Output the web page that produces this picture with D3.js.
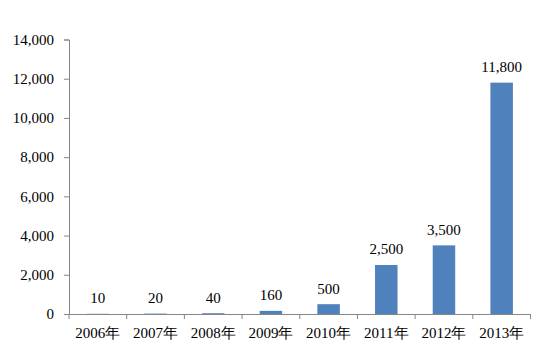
<!DOCTYPE html>
<html><head><meta charset="utf-8">
<script src="https://cdn.jsdelivr.net/npm/d3@7"></script>
<style>
body{margin:0;background:#fff;} svg{display:block;}
svg text{font-family:"Liberation Serif","Times New Roman",Times,"DejaVu Serif",serif;}
</style>
</head><body>
<script>
const categories = ["2006年","2007年","2008年","2009年","2010年","2011年","2012年","2013年"];
const values = [10,20,40,160,500,2500,3500,11800];
const yTicks = [0,2000,4000,6000,8000,10000,12000,14000];

const W = 542, H = 355;
const m = {left:69, right:11.5, top:39.5, bottom:41};
const svg = d3.select("body").append("svg").attr("width",W).attr("height",H);

const x = d3.scaleBand().domain(categories).range([m.left, W-m.right]).paddingInner(0.61).paddingOuter(0.305);
const y = d3.scaleLinear().domain([0,14000]).range([H-m.bottom, m.top]);
const axisColor = "#868686";

// bars
svg.selectAll("rect.bar").data(values).enter().append("rect")
  .attr("class","bar")
  .attr("x",(d,i)=>x(categories[i]))
  .attr("width",x.bandwidth())
  .attr("y",d=>y(d))
  .attr("height",d=>y(0)-y(d))
  .attr("fill","#4F81BD");

// y axis
const ya = svg.append("g").attr("transform",`translate(${m.left},0)`)
  .call(d3.axisLeft(y).tickValues(yTicks).tickFormat(d3.format(",")).tickSizeOuter(0).tickSize(5).tickPadding(10));
ya.attr("font-family",null);
ya.select(".domain").attr("stroke",axisColor);
ya.selectAll(".tick line").attr("stroke",axisColor);
ya.selectAll("text").attr("font-size",15).attr("fill","#000");

// x axis
const xa = svg.append("g").attr("transform",`translate(0,${y(0)})`)
  .call(d3.axisBottom(x).tickSize(0).tickPadding(13));
xa.attr("font-family",null);
xa.select(".domain").attr("stroke",axisColor);
xa.selectAll("text").attr("font-size",15).attr("fill","#000");
// category boundary ticks
const n = categories.length;
const bounds = d3.range(n+1).map(i => x.range()[0] + i*x.step());
svg.append("g").selectAll("line").data(bounds).enter().append("line")
  .attr("x1",d=>d).attr("x2",d=>d).attr("y1",y(0)).attr("y2",y(0)+5)
  .attr("stroke",axisColor);

// data labels
svg.selectAll("text.lbl").data(values).enter().append("text")
  .attr("class","lbl")
  .attr("x",(d,i)=>x(categories[i])+x.bandwidth()/2)
  .attr("y",d=>y(d)-10.5)
  .attr("text-anchor","middle")
  .attr("font-size",15).attr("fill","#000")
  .text(d=>d3.format(",")(d));
</script>
</body></html>
